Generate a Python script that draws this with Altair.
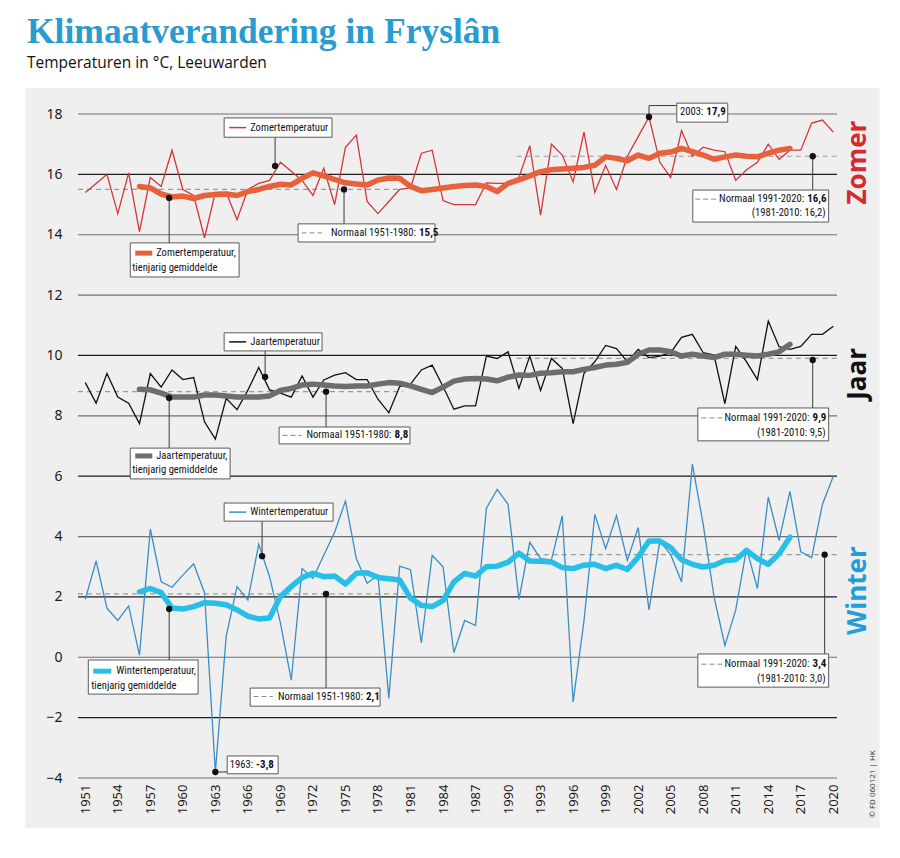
import altair as alt
import pandas as pd

# ---------------- data ----------------
years = list(range(1951, 2021))

summer = [15.4, 15.7, 16.0, 14.7, 16.05, 14.1, 15.9, 15.6, 16.8, 15.5,
          15.3, 13.9, 15.4, 15.4, 14.5, 15.5, 15.7, 15.8, 16.4, 16.1,
          15.8, 15.3, 16.2, 15.0, 16.9, 17.3, 15.1, 14.7, 15.1, 15.5,
          15.55, 16.7, 16.8, 15.13, 15.0, 15.0, 15.0, 15.72, 15.7, 15.7,
          15.9, 16.95, 14.65, 17.0, 16.64, 15.75, 17.4, 15.4, 16.3, 15.5,
          16.6, 17.25, 17.9, 16.4, 15.9, 17.45, 16.6, 16.9, 16.8, 16.75,
          15.8, 16.15, 16.4, 17.0, 16.5, 16.8, 16.8, 17.7, 17.8, 17.4]

year_temp = [9.1, 8.42, 9.4, 8.62, 8.42, 7.74, 9.4, 8.95, 9.52, 9.2,
             9.27, 7.8, 7.23, 8.58, 8.2, 8.85, 9.6, 8.86, 8.75, 8.62,
             9.32, 8.62, 9.19, 9.35, 9.43, 9.2, 9.2, 8.55, 8.1, 8.97,
             9.05, 9.52, 9.68, 8.97, 8.22, 8.33, 8.33, 9.98, 9.9, 10.12,
             8.91, 9.98, 8.84, 9.9, 9.57, 7.74, 9.41, 9.79, 10.33, 10.23,
             9.79, 10.2, 9.93, 9.98, 10.09, 10.6, 10.7, 10.09, 10.01, 8.4,
             10.3, 9.79, 9.2, 11.14, 10.29, 10.2, 10.3, 10.7, 10.7, 10.97]

winter = [1.92, 3.19, 1.63, 1.22, 1.7, 0.07, 4.25, 2.5, 2.32, 2.72,
          3.1, 2.14, -3.8, 0.7, 2.34, 1.9, 3.74, 2.67, 1.14, -0.76,
          2.94, 2.61, 3.38, 4.14, 5.18, 3.27, 2.45, 2.72, -1.36, 3.02,
          2.9, 0.48, 3.38, 3.0, 0.15, 1.22, 1.05, 4.94, 5.56, 5.07,
          1.92, 3.81, 3.27, 3.23, 4.69, -1.48, 1.2, 4.74, 3.6, 4.69,
          3.21, 4.3, 1.57, 3.85, 3.4, 2.5, 6.4, 4.4, 2.0, 0.39,
          1.57, 3.6, 2.28, 5.31, 3.87, 5.5, 3.49, 3.3, 5.07, 6.0]

avg_years = list(range(1956, 2017))

summer_avg = [15.6, 15.55, 15.35, 15.25, 15.28,
              15.2, 15.3, 15.33, 15.35, 15.3, 15.43, 15.5, 15.6, 15.67, 15.65,
              15.87, 16.05, 15.95, 15.83, 15.72, 15.68, 15.65, 15.81, 15.88, 15.87,
              15.6, 15.46, 15.5, 15.55, 15.6, 15.63, 15.65, 15.6, 15.43, 15.7,
              15.82, 15.95, 16.09, 16.15, 16.18, 16.2, 16.23, 16.3, 16.58, 16.53,
              16.45, 16.64, 16.53, 16.7, 16.74, 16.86, 16.75, 16.64, 16.5, 16.58,
              16.64, 16.6, 16.58, 16.7, 16.8, 16.86]

year_avg = [8.88, 8.86, 8.75, 8.62, 8.62,
            8.62, 8.69, 8.69, 8.66, 8.62, 8.62, 8.62, 8.66, 8.84, 8.91,
            9.02, 9.05, 9.02, 8.99, 8.97, 8.99, 8.99, 9.05, 9.1, 9.08,
            8.99, 8.88, 8.77, 8.95, 9.15, 9.22, 9.24, 9.22, 9.16, 9.28,
            9.35, 9.34, 9.41, 9.43, 9.46, 9.46, 9.54, 9.6, 9.68, 9.71,
            9.77, 10.04, 10.18, 10.18, 10.12, 9.98, 10.04, 9.98, 9.93, 10.04,
            10.04, 10.01, 9.98, 10.04, 10.12, 10.37]

winter_avg = [2.17, 2.28, 2.14, 1.63, 1.6,
              1.68, 1.81, 1.79, 1.74, 1.57, 1.36, 1.27, 1.3, 2.01, 2.34,
              2.64, 2.78, 2.67, 2.69, 2.43, 2.78, 2.8, 2.64, 2.6, 2.56,
              1.96, 1.72, 1.68, 1.88, 2.5, 2.78, 2.69, 3.0, 3.02, 3.15,
              3.45, 3.19, 3.18, 3.16, 2.97, 2.94, 3.05, 3.08, 2.94, 3.05,
              2.91, 3.32, 3.85, 3.85, 3.63, 3.23, 3.08, 2.99, 3.05, 3.21,
              3.23, 3.54, 3.27, 3.08, 3.43, 3.98]

series_names = ["Zomer", "Jaar", "Winter"]
avg_names = ["Zomer gem", "Jaar gem", "Winter gem"]

# climate normals: value, period drawn (years)
normal_values = [15.5, 16.6, 8.8, 9.9, 2.1, 3.4]
normal_start = [1950.33, 1990.8, 1950.33, 1990.8, 1950.33, 1990.8]
normal_end = [1980.3, 2020.34, 1980.3, 2020.34, 1980.3, 2020.34]

x_ticks = list(range(1951, 2018, 3)) + [2020]
y_ticks = list(range(-4, 19, 2))

# ---------------- annotations (data units: year, degC) ----------------
box_x1 = [1963.81, 1955.15, 1970.63, 2005.56, 2007.04, 1963.81, 1955.15, 1968.88, 2007.5, 1963.81, 1951.28, 1966.21, 2007.5, 1964.09]
box_x2 = [1973.76, 1965.19, 1983.26, 2010.26, 2019.57, 1972.84, 1964.36, 1980.95, 2019.57, 1973.86, 1961.41, 1978.19, 2019.57, 1968.79]
box_y1 = [17.87, 13.73, 14.36, 18.36, 15.48, 10.75, 6.93, 7.63, 8.26, 5.11, -0.09, -1.02, 0.11, -3.27]
box_y2 = [17.23, 12.60, 13.76, 17.73, 14.42, 10.15, 5.91, 7.07, 7.17, 4.51, -1.22, -1.62, -0.99, -3.86]

dot_x = [1968.51, 1958.74, 1974.87, 2003.0, 2018.1, 1967.59, 1958.74, 1973.21, 2018.1, 1967.31, 1958.74, 1973.21, 2019.2, 1963.0]
dot_y = [16.28, 15.22, 15.5, 17.9, 16.6, 9.29, 8.59, 8.8, 9.85, 3.35, 1.60, 2.1, 3.4, -3.8]

lead_x1 = [1968.51, 1958.74, 1974.87, 2003.0, 2003.0, 2018.1, 1967.59, 1958.74, 1973.21, 2018.1, 1967.31, 1958.74, 1973.21, 2019.2, 1963.0]
lead_x2 = [1968.51, 1958.74, 1974.87, 2003.0, 2005.56, 2018.1, 1967.59, 1958.74, 1973.21, 2018.1, 1967.31, 1958.74, 1973.21, 2019.2, 1964.09]
lead_y1 = [16.28, 15.22, 15.5, 17.9, 18.28, 16.6, 9.29, 8.59, 8.8, 9.85, 3.35, 1.60, 2.1, 3.4, -3.8]
lead_y2 = [17.23, 13.73, 14.36, 18.28, 18.28, 15.48, 10.15, 6.93, 7.63, 8.26, 4.51, -0.09, -1.02, 0.11, -3.8]

left_x = [1966.21, 1957.54, 1955.33, 1966.21, 1957.54, 1955.33, 1966.21, 1953.86, 1951.55]
left_y = [17.55, 13.39, 12.91, 10.45, 6.67, 6.20, 4.81, -0.46, -0.95]
left_text = ["Zomertemperatuur", "Zomertemperatuur,", "tienjarig gemiddelde",
             "Jaartemperatuur", "Jaartemperatuur,", "tienjarig gemiddelde",
             "Wintertemperatuur", "Wintertemperatuur,", "tienjarig gemiddelde"]

split_x = [1981.65, 2008.15, 2017.45, 1979.38, 2017.95, 1976.75, 2017.95, 1966.62]
split_y = [14.06, 18.05, 15.18, 7.35, 7.93, -1.30, -0.23, -3.57]
split_normal = ["Normaal 1951-1980:", "2003:", "Normaal 1991-2020:", "Normaal 1951-1980:",
                "Normaal 1991-2020:", "Normaal 1951-1980:", "Normaal 1991-2020:", "1963:"]
split_bold = ["15,5", "17,9", "16,6", "8,8", "9,9", "2,1", "3,4", "-3,8"]

right_x = [2019.29, 2019.29, 2019.29]
right_y = [14.72, 7.43, -0.72]
right_text = ["(1981-2010: 16,2)", "(1981-2010: 9,5)", "(1981-2010: 3,0)"]

thin_sw_x1 = [1964.27, 1964.27, 1964.27]
thin_sw_x2 = [1965.84, 1965.84, 1965.84]
thin_sw_y = [17.55, 10.45, 4.81]
thick_sw_x1 = [1955.61, 1955.61, 1951.74]
thick_sw_x2 = [1957.18, 1957.18, 1953.40]
thick_sw_y = [13.39, 6.67, -0.46]
dash_sw_x1 = [1970.95, 2007.26, 1969.2, 2007.82, 1966.53, 2007.82]
dash_sw_x2 = [1972.85, 2009.2, 1970.95, 2009.75, 1968.3, 2009.75]
dash_sw_y = [14.06, 15.18, 7.35, 7.93, -1.30, -0.23]

side_labels = ["Zomer", "Jaar", "Winter"]
side_y = [16.39, 9.39, 2.21]
side_colors = ["#d42a30", "#111111", "#239dd6"]

# ---------------- tables ----------------
thin_df = pd.DataFrame({
    "year": years * 3,
    "temp": summer + year_temp + winter,
    "series": [s for s in series_names for _ in years],
})
avg_df = pd.DataFrame({
    "year": avg_years * 3,
    "temp": summer_avg + year_avg + winter_avg,
    "series": [s for s in avg_names for _ in avg_years],
})
grid_df = pd.DataFrame({"v": y_ticks})
normals_df = pd.DataFrame({"x": normal_start, "x2": normal_end, "y": normal_values})
boxes_df = pd.DataFrame({"x": box_x1, "x2": box_x2, "y": box_y1, "y2": box_y2})
dots_df = pd.DataFrame({"x": dot_x, "y": dot_y})
leads_df = pd.DataFrame({"x": lead_x1, "x2": lead_x2, "y": lead_y1, "y2": lead_y2})
left_df = pd.DataFrame({"x": left_x, "y": left_y, "t": left_text})
split_df = pd.DataFrame({"x": split_x, "y": split_y, "n": split_normal, "b": split_bold})
right_df = pd.DataFrame({"x": right_x, "y": right_y, "t": right_text})
thin_sw_df = pd.DataFrame({"x": thin_sw_x1, "x2": thin_sw_x2, "y": thin_sw_y, "series": series_names})
thick_sw_df = pd.DataFrame({"x": thick_sw_x1, "x2": thick_sw_x2, "y": thick_sw_y, "series": avg_names})
dash_sw_df = pd.DataFrame({"x": dash_sw_x1, "x2": dash_sw_x2, "y": dash_sw_y})
one = pd.DataFrame({"k": [0]})

# ---------------- scales / axes / helpers ----------------
XMIN, XMAX = 1950.33, 2020.34
xs = alt.Scale(domain=[XMIN, XMAX], nice=False, zero=False)
ys = alt.Scale(domain=[-4, 18], nice=False, zero=False)
color_scale = alt.Scale(
    domain=series_names + avg_names,
    range=["#d4363a", "#111111", "#3a8ec3", "#e7613d", "#6d6d6d", "#27bee8"],
)

AXIS_FONT = "Noto Sans"
ANN_FONT = "Liberation Sans Narrow, Roboto Condensed, DejaVu Sans Condensed, Roboto, sans-serif"

# axes drawn above the grey panel (zindex 1); the grid is drawn as rules below the data
x_axis = alt.Axis(
    values=x_ticks, format="d", labelAngle=270, grid=False, domain=False, ticks=False,
    labelPadding=6, labelFont=AXIS_FONT, labelFontSize=13, labelColor="#1a1a1a",
    title=None, labelOverlap=False, zindex=1)
y_axis = alt.Axis(
    values=y_ticks, grid=False, domain=False, ticks=False, labelPadding=16,
    labelFont=AXIS_FONT, labelFontSize=14, labelColor="#1a1a1a", title=None, zindex=1)


def X(f="x"):
    return alt.X(f, type="quantitative", scale=xs, axis=x_axis)


def Y(f="y"):
    return alt.Y(f, type="quantitative", scale=ys, axis=y_axis)


def XD(v):
    return alt.XDatum(v, type="quantitative", scale=xs, axis=x_axis)


def YD(v):
    return alt.YDatum(v, type="quantitative", scale=ys, axis=y_axis)


# ---------------- layers ----------------
panel = alt.Chart(one).mark_rect(color="#efefef").encode(
    x=XD(1945.47), x2=alt.datum(2024.27), y=YD(18.86), y2=alt.datum(-5.66))

grid = alt.Chart(grid_df).mark_rule(strokeWidth=1.2).encode(
    x=XD(XMIN), x2=alt.datum(XMAX), y=Y("v"),
    color=alt.condition("indexof([16, 10, 6, 2, -2], datum.v) >= 0",
                        alt.value("#1c1c1c"), alt.value("#707070")),
)

title = alt.Chart(one).mark_text(
    text="Klimaatverandering in Fryslân", font="Liberation Serif", fontWeight="bold",
    fontSize=35.5, color="#2a9bcf", align="left", baseline="alphabetic",
).encode(x=alt.value(-51), y=alt.value(-71))

subtitle = alt.Chart(one).mark_text(
    text="Temperaturen in °C, Leeuwarden", font="Open Sans", fontSize=15.5,
    color="#111111", align="left", baseline="alphabetic",
).encode(x=alt.value(-51), y=alt.value(-46))

normals = alt.Chart(normals_df).mark_rule(color="#9a9a9a", strokeWidth=1.2, strokeDash=[5, 4]).encode(
    x=X(), x2="x2:Q", y=Y())

thin = alt.Chart(thin_df).mark_line(strokeWidth=1.3).encode(
    x=X("year"), y=Y("temp"),
    color=alt.Color("series:N", scale=color_scale, legend=None),
)

thick = alt.Chart(avg_df).mark_line(strokeWidth=5.5, strokeJoin="round", strokeCap="round").encode(
    x=X("year"), y=Y("temp"),
    color=alt.Color("series:N", scale=color_scale, legend=None),
)

leads = alt.Chart(leads_df).mark_rule(color="#3a3a3a", strokeWidth=1).encode(
    x=X(), x2="x2:Q", y=Y(), y2="y2:Q")

boxes = alt.Chart(boxes_df).mark_rect(fill="white", stroke="#4a4a4a", strokeWidth=0.9).encode(
    x=X(), x2="x2:Q", y=Y(), y2="y2:Q")

thin_sw = alt.Chart(thin_sw_df).mark_rule(strokeWidth=1.5).encode(
    x=X(), x2="x2:Q", y=Y(), color=alt.Color("series:N", scale=color_scale, legend=None))

thick_sw = alt.Chart(thick_sw_df).mark_rule(strokeWidth=5).encode(
    x=X(), x2="x2:Q", y=Y(), color=alt.Color("series:N", scale=color_scale, legend=None))

dash_sw = alt.Chart(dash_sw_df).mark_rule(color="#8a8a8a", strokeWidth=1, strokeDash=[5, 3]).encode(
    x=X(), x2="x2:Q", y=Y())

ANN_SIZE = 10.6
left_txt = alt.Chart(left_df).mark_text(
    font=ANN_FONT, fontSize=ANN_SIZE, color="#111111", align="left", baseline="middle").encode(
    x=X(), y=Y(), text="t:N")

split_norm = alt.Chart(split_df).mark_text(
    font=ANN_FONT, fontSize=ANN_SIZE, color="#111111", align="right", baseline="middle", dx=-1.5).encode(
    x=X(), y=Y(), text="n:N")

split_b = alt.Chart(split_df).mark_text(
    font=ANN_FONT, fontSize=ANN_SIZE + 0.4, fontWeight="bold", color="#111111", align="left",
    baseline="middle", dx=1.5).encode(
    x=X(), y=Y(), text="b:N")

right_txt = alt.Chart(right_df).mark_text(
    font=ANN_FONT, fontSize=ANN_SIZE, color="#111111", align="right", baseline="middle").encode(
    x=X(), y=Y(), text="t:N")

dots = alt.Chart(dots_df).mark_circle(color="#111111", size=40, opacity=1).encode(x=X(), y=Y())

side = [
    alt.Chart(one).mark_text(
        text=lab, font="Open Sans", fontWeight="bold", fontSize=26, color=col,
        angle=270, align="center", baseline="middle",
    ).encode(x=XD(2022.24), y=YD(yv))
    for lab, yv, col in zip(side_labels, side_y, side_colors)
]

credit = alt.Chart(one).mark_text(
    text="© FD 060121 | HK", font="Open Sans", fontSize=8, color="#333333",
    angle=270, align="center", baseline="middle",
).encode(x=XD(2023.63), y=YD(-4.2))

chart = alt.layer(
    panel, grid, normals, thin, thick, leads, boxes,
    thin_sw, thick_sw, dash_sw, left_txt, split_norm, split_b, right_txt, dots,
    *side, credit, title, subtitle,
).properties(
    width=759, height=664,
    padding={"left": 78, "top": 114, "right": 63, "bottom": 80},
    autosize=alt.AutoSizeParams(type="none"),
    background="white",
).configure_view(stroke=None)

chart.save("out.html", embed_options={"renderer": "svg", "actions": False})
